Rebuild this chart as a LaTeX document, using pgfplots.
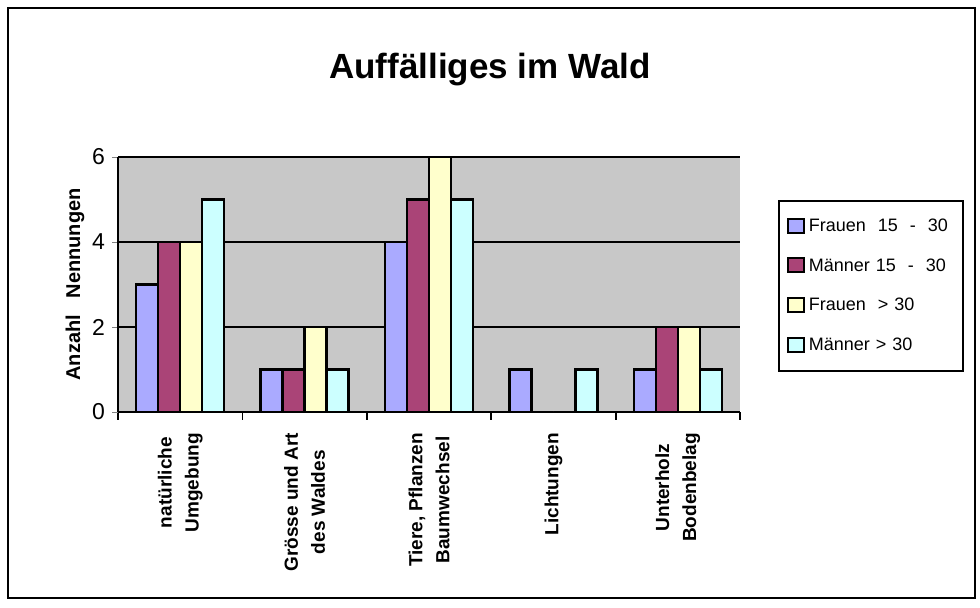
\documentclass[border=0pt]{standalone}
\usepackage{pgfplots}
\pgfplotsset{compat=1.18}
\usepackage{fontspec}
\setmainfont{Liberation Sans}
\setsansfont{Liberation Sans}
\definecolor{cA}{RGB}{170,170,255}
\definecolor{cB}{RGB}{170,68,119}
\definecolor{cC}{RGB}{255,255,204}
\definecolor{cD}{RGB}{204,255,255}
\definecolor{bg}{RGB}{200,200,200}
\begin{document}
\begin{tikzpicture}
\path (0pt,0pt) rectangle (490pt,304pt);
\draw[line width=1pt] (4pt,5pt) rectangle (487.5pt,300pt);
\node[font=\bfseries\fontsize{17.5}{20}\selectfont] at (245pt,269pt) {Auffälliges im Wald};
\begin{axis}[
  at={(59pt,98pt)}, anchor=south west,
  scale only axis, width=311pt, height=127.5pt,
  xmin=-0.5, xmax=4.5, ymin=0, ymax=6,
  ybar=0pt, bar width=11pt,
  axis background/.style={fill=bg},
  axis x line*=bottom, axis y line*=left,
  axis line style={line width=1.3pt},
  ytick={0,2,4,6},
  ymajorgrids, major grid style={line width=1.3pt, black},
  xtick={0,1,2,3,4},
  major x tick style={draw=none},
  minor xtick={-0.5,0.5,1.5,2.5,3.5,4.5},
  minor tick length=4pt, minor tick style={line width=0.9pt, black},
  tick align=outside, major tick length=3pt,
  /pgf/number format/assume math mode=true,
  yticklabel style={font=\fontsize{11.5}{13}\selectfont},
  xticklabels={{natürliche\\Umgebung},{Grösse und Art\\des Waldes},{Tiere, Pflanzen\\Baumwechsel},{Lichtungen},{Unterholz\\Bodenbelag}},
  xticklabel style={rotate=90, anchor=east, align=center, font=\bfseries\fontsize{9.5}{13.5}\selectfont, xshift=-4pt},
  ylabel={\bfseries Anzahl\ \ \ Nennungen},
  ylabel style={font=\fontsize{10}{12}\selectfont, yshift=-3pt},
  legend style={at={(1.061,0.831)}, anchor=north west, draw=black, line width=1pt,
    font=\fontsize{9}{11}\selectfont, row sep=8pt, inner xsep=4pt, inner ysep=7pt,
    text width=71pt, /tikz/every even column/.append style={column sep=0pt}},
  legend image code/.code={\draw[#1, line width=1pt] (0pt,-3pt) rectangle (8pt,4pt);},
  legend cell align=left,
  every axis plot/.append style={draw=black, line width=1.2pt},
]
\addplot[fill=cA] coordinates {(0,3) (1,1) (2,4) (3,1) (4,1)};
\addplot[fill=cB] coordinates {(0,4) (1,1) (2,5) (3,0) (4,2)};
\addplot[fill=cC] coordinates {(0,4) (1,2) (2,6) (3,0) (4,2)};
\addplot[fill=cD] coordinates {(0,5) (1,1) (2,5) (3,1) (4,1)};
\legend{Frauen\ \ 15\ \ -\ \ 30, Männer 15\ \ -\ \ 30, Frauen\ \ > 30, Männer > 30}
\end{axis}
\end{tikzpicture}
\end{document}
